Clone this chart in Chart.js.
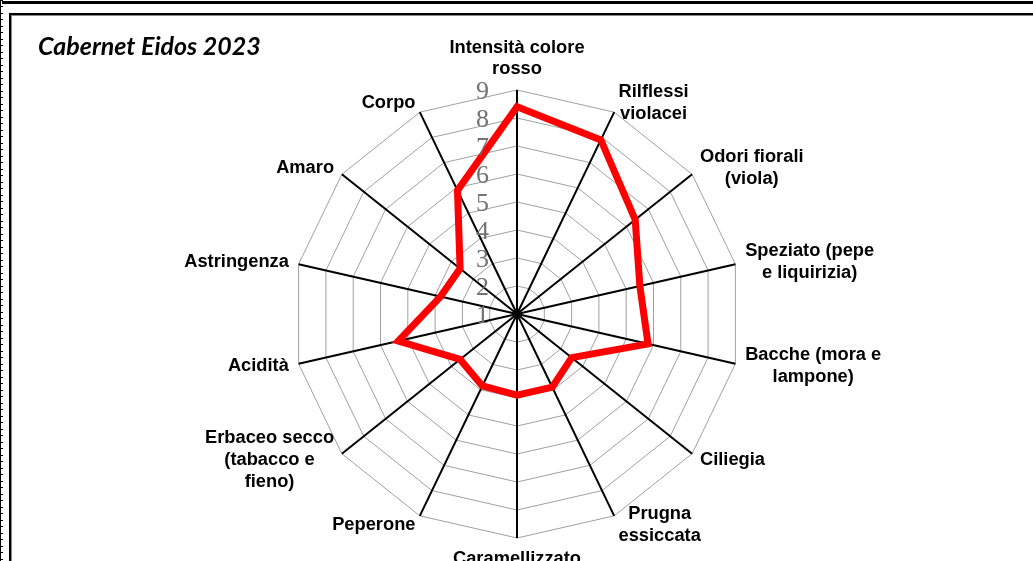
<!DOCTYPE html>
<html>
<head>
<meta charset="utf-8">
<script src="https://cdn.jsdelivr.net/npm/chart.js@4/dist/chart.umd.min.js"></script>
<style>
  html, body { margin: 0; padding: 0; background: #fff; overflow: hidden; }
  body { width: 1033px; height: 561px; position: relative; }
  .edge-top  { position: absolute; left: 2px; top: 1px; right: 0; height: 3px; background: #000; }
  .edge-left { position: absolute; left: 0; top: 0; bottom: 0; width: 1px; background: #000; }
  .edge-ticks { position: absolute; left: 1px; top: 0; bottom: 0; width: 2px;
    background: repeating-linear-gradient(to bottom, #000 0 1px, transparent 1px 6.5px); }
  .frame { position: absolute; left: 9px; top: 13px; right: -10px; bottom: -10px;
    border-top: 2px solid #000; border-left: 2px solid #000; box-shadow: inset 1px 1px 0 #888; }
  #radar { position: absolute; left: 0; top: 0; }
</style>
</head>
<body>
<div class="edge-top"></div>
<div class="edge-left"></div>
<div class="edge-ticks"></div>
<div class="frame"></div>
<canvas id="radar" width="1033" height="561"></canvas>

<script>
const TITLE = 'Cabernet Eidos 2023';

const CATEGORIES = [
  ['Intensità colore', 'rosso'],
  ['Rilflessi', 'violacei'],
  ['Odori fiorali', '(viola)'],
  ['Speziato (pepe', 'e liquirizia)'],
  ['Bacche (mora e', 'lampone)'],
  ['Ciliegia'],
  ['Prugna', 'essiccata'],
  ['Caramellizzato'],
  ['Peperone'],
  ['Erbaceo secco', '(tabacco e', 'fieno)'],
  ['Acidità'],
  ['Astringenza'],
  ['Amaro'],
  ['Corpo'],
];

const SCORES = [8.4, 7.9, 6.4, 5.5, 5.8, 3.5, 3.9, 3.9, 3.85, 3.6, 5.35, 3.8, 3.6, 5.9];

const TICKS = [1, 2, 3, 4, 5, 6, 7, 8, 9];

// labels and tick numbers drawn the way the spreadsheet places them
const excelLabels = {
  id: 'excelLabels',
  afterDraw(chart) {
    const ctx   = chart.ctx;
    const scale = chart.scales.r;
    ctx.save();

    ctx.fillStyle    = '#000';
    ctx.font         = 'italic bold 25px Lato';
    ctx.textAlign    = 'left';
    ctx.textBaseline = 'alphabetic';
    ctx.fillText(TITLE, 38, 55);

    ctx.fillStyle = '#737373';
    ctx.font      = '26px "Liberation Serif"';
    ctx.textAlign = 'right';
    TICKS.forEach(t => {
      const d = scale.getDistanceFromCenterForValue(t);
      ctx.fillText(String(t), scale.xCenter - 28, scale.yCenter - d + 8.8);
    });

    const lineH = 21.6;
    ctx.fillStyle    = '#000';
    ctx.font         = 'bold 18.3px "Liberation Sans"';
    ctx.textBaseline = 'middle';
    ctx.textAlign    = 'center';
    CATEGORIES.forEach((lines, i) => {
      const p = scale.getPointPosition(i, scale.drawingArea + 10);
      const deg = Math.round(scale.getIndexAngle(i) * 180 / Math.PI) % 360;
      const w = Math.max(...lines.map(l => ctx.measureText(l).width));
      const h = lines.length * lineH;
      let cx, top;
      if (deg === 0)        { cx = p.x; top = p.y - h; }
      else if (deg === 180) { cx = p.x; top = p.y; }
      else {
        cx  = deg < 180 ? p.x + w / 2 : p.x - w / 2;
        top = p.y - h / 2;
      }
      lines.forEach((l, k) => ctx.fillText(l, cx, top + lineH * (k + 0.5)));
    });

    ctx.restore();
  },
};

new Chart(document.getElementById('radar'), {
  type: 'radar',
  data: {
    labels: CATEGORIES,
    datasets: [{
      data:            SCORES,
      borderColor:     '#ff0000',
      backgroundColor: 'rgba(0,0,0,0)',
      borderWidth:     7,
      pointRadius:     0,
      fill:            false,
      tension:         0,
    }],
  },
  options: {
    responsive:       false,
    animation:        false,
    devicePixelRatio: 1,
    layout: { padding: { left: 293, right: 292, top: 90, bottom: 23 } },
    plugins: {
      legend:  { display: false },
      tooltip: { enabled: false },
    },
    scales: {
      r: {
        min: 1,
        max: 9,
        ticks:       { stepSize: 1, display: false },
        grid:        { color: '#a0a0a0', lineWidth: 1 },
        angleLines:  { color: '#000', lineWidth: 2 },
        pointLabels: { display: false },
      },
    },
  },
  plugins: [excelLabels],
});
</script>
</body>
</html>
